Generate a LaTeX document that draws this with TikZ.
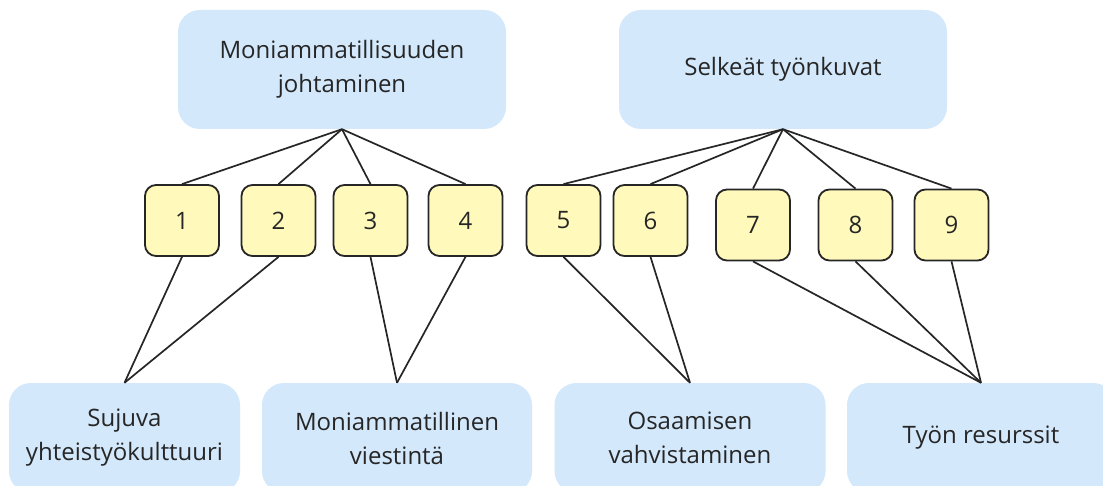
\documentclass[tikz,border=0pt]{standalone}
\usepackage{fontspec}
\setmainfont{Open Sans}
\definecolor{topicblue}{HTML}{D3E8FB}
\definecolor{itemyellow}{HTML}{FFF9BC}
\definecolor{inkdark}{HTML}{262626}
\begin{document}
\begin{tikzpicture}[x=1pt,y=-1pt,
  topic/.style={fill=topicblue, draw=none, rounded corners=22pt, align=center,
    font=\fontsize{24}{34}\selectfont, text=inkdark, inner sep=0pt},
  item/.style={fill=itemyellow, draw=inkdark, line width=1.8pt, rounded corners=11pt,
    minimum width=74pt, minimum height=71pt, inner sep=0pt,
    font=\fontsize{24}{28}\selectfont, text=inkdark},
  link/.style={draw=inkdark, line width=1.7pt}]
\clip (0,0) rectangle (1103,486);
\fill[white] (0,0) rectangle (1103,486);

% main themes
\node[topic, minimum width=328pt, minimum height=119pt] (tl) at (342,69.5) {Moniammatillisuuden\\johtaminen};
\node[topic, minimum width=328pt, minimum height=119pt] (tr) at (783,69.5) {Selkeät työnkuvat};

% numbered items
\node[item] (b1) at (182,220.5) {1};
\node[item] (b2) at (278.5,220.5) {2};
\node[item] (b3) at (370.5,220.5) {3};
\node[item] (b4) at (465.5,220.5) {4};
\node[item] (b5) at (563.5,220.5) {5};
\node[item] (b6) at (650.5,220.5) {6};
\node[item] (b7) at (753,225) {7};
\node[item] (b8) at (855.5,225) {8};
\node[item] (b9) at (951.5,225) {9};

% outcomes (their lower edge runs past the page)
\node[topic, minimum width=231pt, minimum height=110pt] (s1) at (124.5,438) {Sujuva\\yhteistyökulttuuri};
\node[topic, minimum width=270pt, minimum height=110pt] (s2) at (397,438) {Moniammatillinen\\viestintä};
\node[topic, minimum width=271pt, minimum height=110pt] (s3) at (690,438) {Osaamisen\\vahvistaminen};
\node[topic, minimum width=268pt, minimum height=110pt] (s4) at (981,438) {Työn resurssit};

% connectors from the themes
\foreach \b in {b1,b2,b3,b4} \draw[link] (tl.south) -- (\b.north);
\foreach \b in {b5,b6,b7,b8,b9} \draw[link] (tr.south) -- (\b.north);

% connectors to the outcomes
\draw[link] (b1.south) -- (s1.north);
\draw[link] (b2.south) -- (s1.north);
\draw[link] (b3.south) -- (s2.north);
\draw[link] (b4.south) -- (s2.north);
\draw[link] (b5.south) -- (s3.north);
\draw[link] (b6.south) -- (s3.north);
\draw[link] (b7.south) -- (s4.north);
\draw[link] (b8.south) -- (s4.north);
\draw[link] (b9.south) -- (s4.north);
\end{tikzpicture}
\end{document}
